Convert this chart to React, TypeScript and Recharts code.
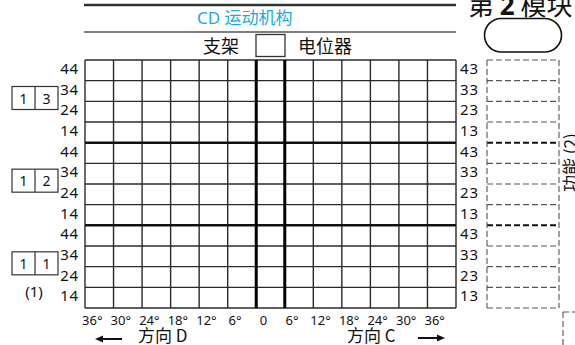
import React from 'react';
import { ComposedChart, XAxis, YAxis, ReferenceLine } from 'recharts';

const xLabels = ['36°', '30°', '24°', '18°', '12°', '6°', '0', '6°', '12°', '18°', '24°', '30°', '36°'];
const leftRowLabels = ['44', '34', '24', '14'];
const rightRowLabels = ['43', '33', '23', '13'];
const sectionCodes = [['1', '3'], ['1', '2'], ['1', '1']];
const sectionNotes = ['', '', '(1)'];
const colCount = xLabels.length;
const rowCount = leftRowLabels.length * sectionCodes.length;
const colBoundaries = Array.from({ length: colCount + 1 }, (_, i) => i);
const rowBoundaries = Array.from({ length: rowCount + 1 }, (_, i) => i);
const thickCols = [6, 7];
const thickRows = [4, 8];
const xTicks = xLabels.map((_, i) => i + 0.5);
const yTicks = Array.from({ length: rowCount }, (_, i) => i + 0.5);

const W = 575;
const H = 345;
const PLOT_L = 85;
const PLOT_R = 456;
const PLOT_T = 60;
const PLOT_B = 308;
const ROW_H = (PLOT_B - PLOT_T) / rowCount;

const LATIN = '"Noto Sans", "Noto Sans CJK SC", sans-serif';
const CJK = '"Noto Sans CJK SC", "Noto Sans", sans-serif';

const rowLabel = (v: number, labels: string[]) => {
  const fromTop = rowCount - 1 - Math.floor(v);
  return labels[fromTop % labels.length];
};

const LeftTick = (props: any) => {
  const { x, y, payload } = props;
  return (
    <text x={x} y={y - 2.5} textAnchor="end" dominantBaseline="central" fontSize={15} letterSpacing={0.8} fill="#111" fontFamily={LATIN}>
      {rowLabel(payload.value, leftRowLabels)}
    </text>
  );
};

const RightTick = (props: any) => {
  const { x, y, payload } = props;
  return (
    <text x={x} y={y - 2.5} textAnchor="start" dominantBaseline="central" fontSize={15} letterSpacing={0.8} fill="#111" fontFamily={LATIN}>
      {rowLabel(payload.value, rightRowLabels)}
    </text>
  );
};

const BottomTick = (props: any) => {
  const { x, y, payload } = props;
  return (
    <text x={x - 7} y={y + 9} textAnchor="middle" fontSize={13} fill="#111" fontFamily={LATIN}>
      {xLabels[Math.floor(payload.value)]}
    </text>
  );
};

const dashedRowYs = rowBoundaries.map((i) => PLOT_T + i * ROW_H);

export default function App() {
  return (
    <div style={{ position: 'absolute', left: 0, top: 0, width: W, height: H, background: '#fff' }}>
      <ComposedChart width={W} height={H} margin={{ top: PLOT_T, right: W - PLOT_R - 30, bottom: H - PLOT_B - 30, left: PLOT_L - 30 }} data={[]}>
        <XAxis xAxisId="x" type="number" dataKey="x" domain={[0, colCount]} ticks={xTicks} height={30} axisLine={false} tickLine={false} tick={<BottomTick />} interval={0} allowDataOverflow />
        <YAxis yAxisId="l" type="number" domain={[0, rowCount]} ticks={yTicks} width={30} orientation="left" axisLine={false} tickLine={false} tickSize={4} tick={<LeftTick />} interval={0} allowDataOverflow />
        <YAxis yAxisId="r" type="number" domain={[0, rowCount]} ticks={yTicks} width={30} orientation="right" axisLine={false} tickLine={false} tickSize={2} tick={<RightTick />} interval={0} allowDataOverflow />
        {rowBoundaries.filter((r) => !thickRows.includes(r)).map((r) => (
          <ReferenceLine key={'h' + r} xAxisId="x" yAxisId="l" y={r} stroke="#2a2a2a" strokeWidth={1.4} ifOverflow="visible" />
        ))}
        {colBoundaries.filter((c) => !thickCols.includes(c)).map((c) => (
          <ReferenceLine key={'v' + c} xAxisId="x" yAxisId="l" x={c} stroke="#2a2a2a" strokeWidth={1.4} ifOverflow="visible" />
        ))}
        {thickRows.map((r) => (
          <ReferenceLine key={'H' + r} xAxisId="x" yAxisId="l" y={r} stroke="#111" strokeWidth={2.5} ifOverflow="visible" />
        ))}
        {thickCols.map((c) => (
          <ReferenceLine key={'V' + c} xAxisId="x" yAxisId="l" x={c} stroke="#000" strokeWidth={3} ifOverflow="visible" />
        ))}
      </ComposedChart>
      <svg width={W} height={H} style={{ position: 'absolute', left: 0, top: 0, pointerEvents: 'none' }}>
        <line x1={84} x2={456} y1={5} y2={5} stroke="#333" strokeWidth={2.5} />
        <line x1={84} x2={456} y1={32} y2={32} stroke="#555" strokeWidth={1.5} />
        <text x={197} y={24} fontSize={17} fill="#1AA9E2" fontFamily={LATIN}>CD 运动机构</text>
        <text x={203} y={53} fontSize={18} fill="#111" fontFamily={CJK}>支架</text>
        <rect x={256} y={34.5} width={29} height={22} fill="none" stroke="#333" strokeWidth={1.3} />
        <text x={298} y={53} fontSize={18} fill="#111" fontFamily={CJK}>电位器</text>

        <text x={468} y={15} fontSize={26} fill="#111" fontFamily={CJK}>
          第 <tspan fontWeight="bold" fontFamily={LATIN}>2</tspan> 模块
        </text>
        <rect x={484.5} y={18.5} width={77} height={33.5} rx={16.75} fill="none" stroke="#111" strokeWidth={1.6} />

        {dashedRowYs.map((y, i) => {
          const heavy = thickRows.includes(i);
          return (
            <line key={'d' + i} x1={487} x2={559} y1={y} y2={y} stroke={heavy ? '#111' : '#555'} strokeWidth={heavy ? 2 : 1.1} strokeDasharray="6 3" />
          );
        })}
        <line x1={487} x2={487} y1={PLOT_T} y2={PLOT_B} stroke="#555" strokeWidth={1.1} strokeDasharray="6 3" />
        <line x1={559} x2={559} y1={PLOT_T} y2={PLOT_B} stroke="#555" strokeWidth={1.1} strokeDasharray="6 3" />
        <text x={577} y={192} fontSize={17} fill="#111" fontFamily={CJK} transform="rotate(-90 577 192)">功能 (2)</text>
        <line x1={563} x2={563} y1={312} y2={345} stroke="#555" strokeWidth={1.1} strokeDasharray="6 3" />
        <line x1={563} x2={575} y1={312} y2={312} stroke="#555" strokeWidth={1.1} strokeDasharray="6 3" />

        {sectionCodes.map((codes, s) => {
          const top = PLOT_T + s * 4 * ROW_H + 26.5;
          return (
            <g key={'s' + s}>
              <rect x={12} y={top} width={46} height={23} fill="none" stroke="#333" strokeWidth={1.2} />
              <line x1={35} x2={35} y1={top} y2={top + 23} stroke="#333" strokeWidth={1.2} />
              <text x={23.5} y={top + 11.5} textAnchor="middle" dominantBaseline="central" fontSize={14} fill="#111" fontFamily={LATIN}>{codes[0]}</text>
              <text x={46.5} y={top + 11.5} textAnchor="middle" dominantBaseline="central" fontSize={14} fill="#111" fontFamily={LATIN}>{codes[1]}</text>
              {sectionNotes[s] ? (
                <text x={34} y={top + 39} textAnchor="middle" dominantBaseline="central" fontSize={15} fill="#111" fontFamily={LATIN}>{sectionNotes[s]}</text>
              ) : null}
            </g>
          );
        })}

        <line x1={100} x2={122} y1={339} y2={339} stroke="#111" strokeWidth={2} />
        <polygon points="95,339 103,335.5 103,342.5" fill="#111" />
        <text x={138} y={342} fontSize={17} fill="#111" fontFamily={CJK}>方向 D</text>
        <text x={347} y={342} fontSize={17} fill="#111" fontFamily={CJK}>方向 C</text>
        <line x1={418} x2={440} y1={338} y2={338} stroke="#111" strokeWidth={2} />
        <polygon points="445,338 437,334.5 437,341.5" fill="#111" />
      </svg>
    </div>
  );
}
